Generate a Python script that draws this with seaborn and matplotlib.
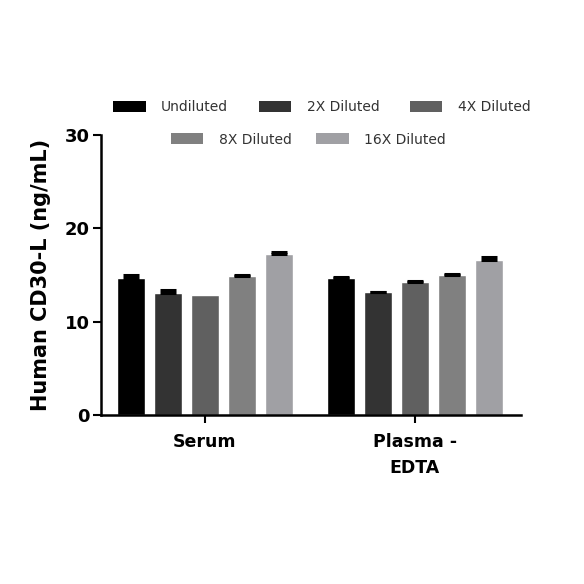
import matplotlib
matplotlib.use('Agg')
import matplotlib.pyplot as plt
from matplotlib.patches import Patch
import seaborn as sns
import pandas as pd
import numpy as np

SAMPLES = ['Serum', 'Plasma -\nEDTA']
DILUTIONS = ['Undiluted', '2X Diluted', '4X Diluted', '8X Diluted', '16X Diluted']
COLORS = ['#000000', '#333333', '#606060', '#808080', '#a0a0a4']
# mean values, one list per sample, in dilution order
SERUM_MEAN = [14.65, 13.1, 12.83, 14.86, 17.25]
PLASMA_MEAN = [14.72, 13.15, 14.22, 15.0, 16.6]
# upper SEM
SERUM_ERR = [0.4, 0.25, 0.0, 0.1, 0.22]
PLASMA_ERR = [0.05, 0.05, 0.15, 0.08, 0.37]

rows = []
for sample, means, errs in [(SAMPLES[0], SERUM_MEAN, SERUM_ERR),
                            (SAMPLES[1], PLASMA_MEAN, PLASMA_ERR)]:
    for d, m, e in zip(DILUTIONS, means, errs):
        rows.append({'sample': sample, 'dilution': d, 'value': m, 'err': e})
df = pd.DataFrame(rows)

sns.set_style('white')
plt.rcParams['font.family'] = ['DejaVu Sans']

fig = plt.figure(figsize=(5.84, 5.84), dpi=100)
ax = fig.add_axes([0.173, 0.289, 0.719, 0.480])

sns.barplot(data=df, x='sample', y='value', hue='dilution', order=SAMPLES,
            hue_order=DILUTIONS, palette=COLORS, width=0.88, gap=0.24,
            errorbar=None, legend=False, ax=ax, saturation=1)

# error bars (upper only), placed from the drawn bars; zero errors are not drawn
for hi, d in enumerate(DILUTIONS):
    cont = ax.containers[hi]
    sub = df[df['dilution'] == d].set_index('sample').loc[SAMPLES]
    for p, v, e in zip(cont.patches, sub['value'].values, sub['err'].values):
        if e <= 0:
            continue
        ax.errorbar([p.get_x() + p.get_width() / 2], [v], yerr=[[0], [e]],
                    fmt='none', ecolor='black', elinewidth=1.2, capsize=6,
                    capthick=2.2, zorder=3)

ax.set_xlim(-0.495, 1.505)
ax.set_ylim(0, 30)
ax.set_yticks([0, 10, 20, 30])
ax.set_xlabel('')
ax.set_ylabel('Human CD30-L (ng/mL)', fontsize=15, fontweight='bold', labelpad=10,
              color='black')
for s in ['top', 'right']:
    ax.spines[s].set_visible(False)
for s in ['left', 'bottom']:
    ax.spines[s].set_linewidth(1.8)
    ax.spines[s].set_color('black')
ax.tick_params(axis='both', direction='out', length=6, width=1.5, colors='black',
               bottom=True, left=True)
ax.tick_params(axis='x', labelsize=12.5, pad=7)
ax.tick_params(axis='y', labelsize=13, pad=2)
for lab in ax.get_xticklabels() + ax.get_yticklabels():
    lab.set_fontweight('bold')
for lab in ax.get_xticklabels():
    lab.set_linespacing(1.55)

handles = [Patch(facecolor=c, edgecolor='none') for c in COLORS]
leg_kw = dict(loc='center', ncol=3, frameon=False, fontsize=10, handlelength=2.35,
              handleheight=0.8, columnspacing=2.2, handletextpad=1.1,
              labelcolor='#333333')
fig.legend(handles[:3], DILUTIONS[:3], bbox_to_anchor=(0.551, 0.816), **leg_kw)
leg_kw['ncol'] = 2
leg_kw['columnspacing'] = 1.8
fig.legend(handles[3:], DILUTIONS[3:], bbox_to_anchor=(0.528, 0.761), **leg_kw)

fig.savefig('out.png', dpi=100)
